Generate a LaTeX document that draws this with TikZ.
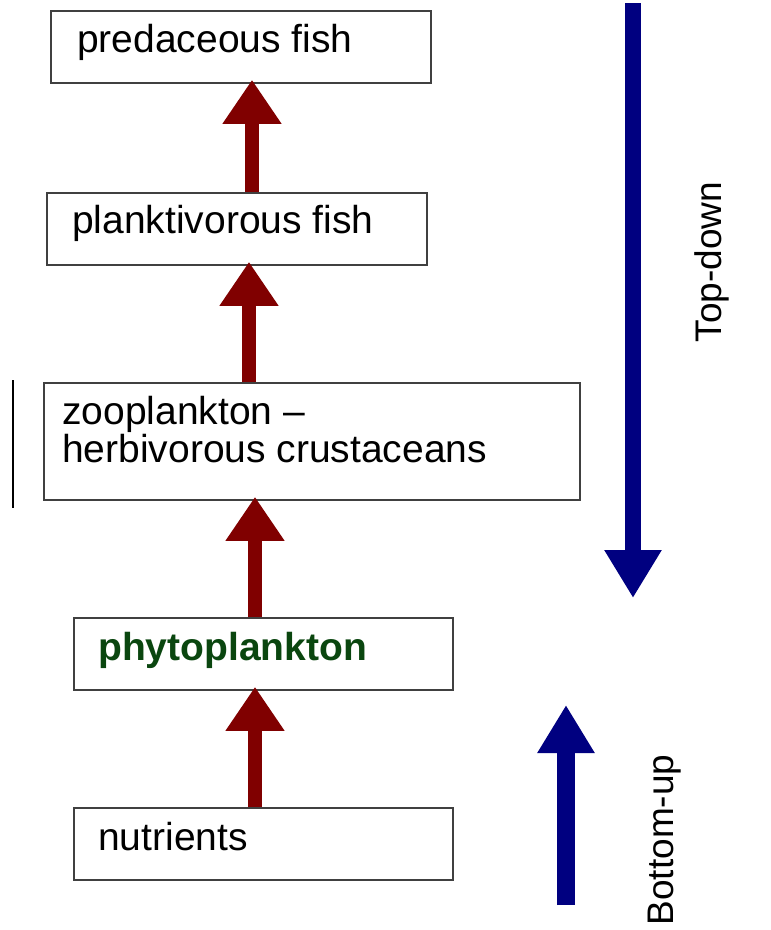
\documentclass[tikz,border=0pt]{standalone}
\usepackage{fontspec}
\setmainfont{Liberation Sans}
\usetikzlibrary{arrows.meta}
\definecolor{arrred}{RGB}{128,0,0}
\definecolor{arrblue}{RGB}{0,0,128}
\definecolor{phygreen}{RGB}{10,70,15}
\begin{document}
\begin{tikzpicture}[x=1pt,y=-1pt,
  box/.style={draw=black!75, line width=1.8pt, fill=white, anchor=north west, inner sep=0pt},
  lbl/.style={anchor=base west, inner sep=0pt, font=\fontsize{39}{38}\selectfont},
  redarr/.style={draw=arrred, line width=14pt, -{Triangle[length=44pt,width=56pt]}, arrred, shorten >=-4pt},
  bluearr/.style={draw=arrblue, line width=16pt, -{Triangle[length=48pt,width=54pt]}, arrblue},
  side/.style={rotate=90, inner sep=0pt, font=\fontsize{37}{37}\selectfont}]
\useasboundingbox (0,0) rectangle (771,930);
% boxes
\node[box, minimum width=380pt, minimum height=72pt] (pf) at (50,10) {};
\node[box, minimum width=380pt, minimum height=72pt] (plf) at (46,192) {};
\node[box, minimum width=536pt, minimum height=117pt] (zoo) at (43,382) {};
\node[box, minimum width=379pt, minimum height=72pt] (phy) at (73,617) {};
\node[box, minimum width=379pt, minimum height=72pt] (nut) at (73,807) {};
% texts
\node[lbl] (tpf) at (77,52) {predaceous fish};
\node[lbl] (tplf) at (72,233) {planktivorous fish};
\node[lbl, align=left, anchor=north west] (tzoo) at (62,396) {zooplankton --\\herbivorous crustaceans};
\node[lbl, text=phygreen, font=\fontsize{39}{38}\selectfont\bfseries] (tphy) at (98,660) {phytoplankton};
\node[lbl] (tnut) at (98,850) {nutrients};
% red arrows
\coordinate (a1) at (252,0);
\coordinate (a2) at (249,0);
\coordinate (a3) at (255,0);
\draw[redarr] (plf.north -| a1) -- (pf.south -| a1);
\draw[redarr] (zoo.north -| a2) -- (plf.south -| a2);
\draw[redarr] (phy.north -| a3) -- (zoo.south -| a3);
\draw[redarr] (nut.north -| a3) -- (phy.south -| a3);
% blue arrows
\coordinate (tdtop) at (633,3);
\coordinate (tdbot) at (633,598);
\coordinate (bubot) at (566,905);
\coordinate (butop) at (566,705);
\draw[bluearr] (tdtop) -- (tdbot);
\draw[bluearr, line width=18pt] (bubot) -- (butop);
\node[side] (td) at (712,262) {Top-down};
\node[side] (bu) at (665,840) {Bottom-up};
% stray line at left
\coordinate (l1) at (13,380);
\coordinate (l2) at (13,508);
\draw[line width=2pt] (l1) -- (l2);
\end{tikzpicture}
\end{document}
